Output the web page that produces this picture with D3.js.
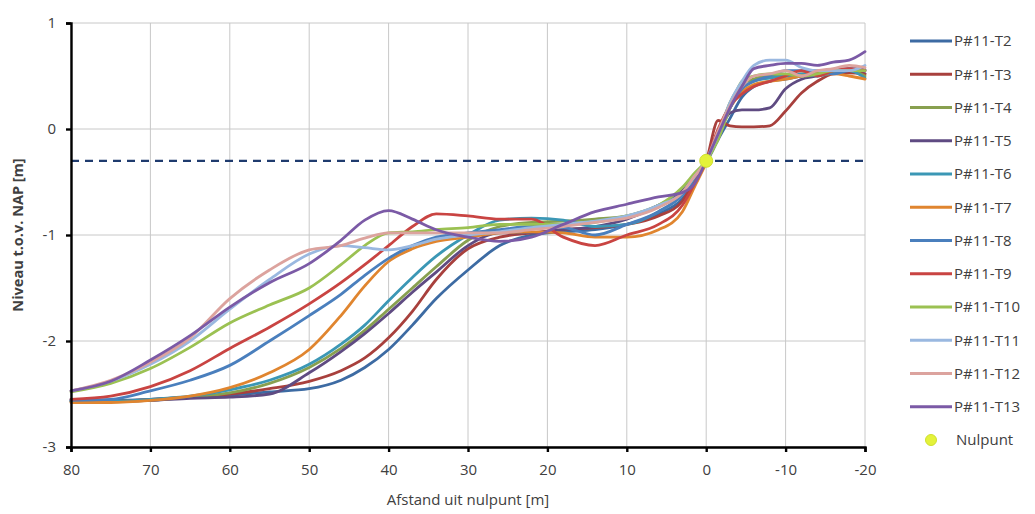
<!DOCTYPE html>
<meta charset="utf-8">
<style>
  body { margin: 0; background: #fff; }
  svg text { font-family: "Open Sans", "Liberation Sans", sans-serif; fill: #404040; }
  .grid line { stroke: #c8c8c8; stroke-width: 1; }
  .series path { fill: none; stroke-width: 2.8px; stroke-linejoin: round; stroke-linecap: round; }
</style>
<svg width="1035" height="514"></svg>
<script src="https://cdn.jsdelivr.net/npm/d3@7/dist/d3.min.js"></script>
<script>
  // afstand uit nulpunt [m]
  var afstand = [80, 75, 70, 65, 60, 55, 50, 46, 43, 40, 37, 34, 30, 26, 22, 18, 14, 10, 6, 3, 1.5, 0, -1.5, -3, -4.5, -6, -8, -10, -12, -14, -16, -18, -20];

  var T2  = [-2.55,-2.56,-2.55,-2.53,-2.51,-2.48,-2.45,-2.37,-2.25,-2.08,-1.85,-1.6,-1.33,-1.1,-1.0,-0.97,-0.95,-0.9,-0.8,-0.66,-0.5,-0.32,-0.1,0.1,0.3,0.4,0.45,0.47,0.5,0.52,0.55,0.55,0.52];
  var T3  = [-2.57,-2.57,-2.55,-2.53,-2.5,-2.45,-2.38,-2.28,-2.16,-1.97,-1.72,-1.42,-1.13,-1.02,-0.98,-0.95,-0.93,-0.9,-0.82,-0.68,-0.48,-0.3,0.08,0.03,0.02,0.02,0.03,0.17,0.34,0.45,0.52,0.53,0.52];
  var T4  = [-2.57,-2.57,-2.56,-2.53,-2.49,-2.4,-2.25,-2.07,-1.9,-1.7,-1.5,-1.3,-1.05,-0.92,-0.88,-0.87,-0.85,-0.82,-0.72,-0.6,-0.45,-0.3,-0.05,0.25,0.42,0.47,0.5,0.5,0.52,0.53,0.55,0.55,0.5];
  var T5  = [-2.56,-2.57,-2.56,-2.54,-2.53,-2.5,-2.3,-2.1,-1.93,-1.74,-1.54,-1.35,-1.1,-0.98,-0.98,-0.95,-0.92,-0.85,-0.72,-0.58,-0.45,-0.3,-0.05,0.15,0.18,0.18,0.2,0.38,0.47,0.5,0.55,0.57,0.56];
  var T6  = [-2.57,-2.57,-2.55,-2.52,-2.46,-2.37,-2.22,-2.03,-1.85,-1.62,-1.4,-1.2,-1.0,-0.86,-0.84,-0.86,-0.92,-0.9,-0.78,-0.62,-0.47,-0.3,-0.02,0.2,0.38,0.45,0.48,0.5,0.52,0.5,0.53,0.55,0.48];
  var T7  = [-2.58,-2.58,-2.56,-2.52,-2.44,-2.3,-2.08,-1.76,-1.48,-1.25,-1.13,-1.06,-1.02,-0.98,-0.97,-0.98,-1.02,-1.02,-0.95,-0.78,-0.55,-0.32,-0.05,0.2,0.35,0.42,0.45,0.47,0.5,0.52,0.52,0.5,0.47];
  var T8  = [-2.56,-2.55,-2.47,-2.37,-2.23,-2.0,-1.76,-1.56,-1.38,-1.22,-1.1,-1.02,-0.98,-0.95,-0.92,-0.93,-1.0,-0.9,-0.78,-0.62,-0.47,-0.3,-0.05,0.2,0.38,0.45,0.5,0.55,0.55,0.55,0.52,0.55,0.55];
  var T9  = [-2.55,-2.52,-2.43,-2.28,-2.07,-1.87,-1.65,-1.45,-1.28,-1.1,-0.92,-0.8,-0.82,-0.85,-0.85,-1.02,-1.1,-1.0,-0.9,-0.72,-0.52,-0.3,0.0,0.22,0.33,0.4,0.45,0.5,0.55,0.5,0.55,0.57,0.55];
  var T10 = [-2.48,-2.4,-2.26,-2.06,-1.83,-1.66,-1.5,-1.28,-1.1,-0.98,-0.97,-0.95,-0.93,-0.9,-0.9,-0.9,-0.88,-0.82,-0.72,-0.55,-0.42,-0.3,-0.1,0.2,0.45,0.5,0.52,0.52,0.5,0.52,0.55,0.55,0.55];
  var T11 = [-2.47,-2.38,-2.22,-2.0,-1.7,-1.42,-1.18,-1.1,-1.12,-1.14,-1.1,-1.04,-1.0,-0.97,-0.93,-0.9,-0.87,-0.82,-0.72,-0.6,-0.45,-0.3,-0.05,0.25,0.45,0.6,0.65,0.65,0.58,0.55,0.55,0.55,0.6];
  var T12 = [-2.47,-2.37,-2.2,-1.97,-1.6,-1.33,-1.14,-1.1,-1.03,-0.98,-0.98,-0.98,-0.98,-0.98,-0.95,-0.92,-0.88,-0.84,-0.74,-0.6,-0.45,-0.3,-0.02,0.22,0.4,0.5,0.52,0.55,0.5,0.55,0.57,0.6,0.58];
  var T13 = [-2.47,-2.38,-2.18,-1.95,-1.68,-1.45,-1.27,-1.05,-0.86,-0.77,-0.85,-0.95,-1.02,-1.06,-1.02,-0.9,-0.78,-0.71,-0.64,-0.6,-0.52,-0.3,-0.05,0.2,0.4,0.57,0.6,0.62,0.62,0.6,0.63,0.65,0.73];

  var seriesNames = ["P#11-T2","P#11-T3","P#11-T4","P#11-T5","P#11-T6","P#11-T7","P#11-T8","P#11-T9","P#11-T10","P#11-T11","P#11-T12","P#11-T13"];
  var seriesValues = [T2, T3, T4, T5, T6, T7, T8, T9, T10, T11, T12, T13];
  var colors = ["#3d6ba3","#a8403d","#88a04f","#5f4b82","#3b97b5","#e0852f","#4a7fbd","#c94442","#9bc152","#9ab8e0","#dca39e","#7b5aa6"];

  var nulpunt = {afstand: 0, niveau: -0.3};
  var xTicks = [80, 70, 60, 50, 40, 30, 20, 10, 0, -10, -20];
  var yTicks = [1, 0, -1, -2, -3];

  var svg = d3.select("svg");
  var plotLeft = 71, plotRight = 865, plotTop = 23, plotBottom = 447;

  var x = d3.scaleLinear().domain([80, -20]).range([plotLeft, plotRight]);
  var y = d3.scaleLinear().domain([-3, 1]).range([plotBottom, plotTop]);

  // grid
  var grid = svg.append("g").attr("class", "grid");
  grid.selectAll(".gx").data(xTicks).enter().append("line")
    .attr("x1", function(d) { return x(d); }).attr("x2", function(d) { return x(d); })
    .attr("y1", plotTop).attr("y2", plotBottom);
  grid.selectAll(".gy").data(yTicks).enter().append("line")
    .attr("x1", plotLeft).attr("x2", plotRight)
    .attr("y1", function(d) { return y(d); }).attr("y2", function(d) { return y(d); });

  // dashed reference level
  svg.append("line")
    .attr("x1", x(80)).attr("x2", x(-20))
    .attr("y1", y(nulpunt.niveau)).attr("y2", y(nulpunt.niveau))
    .attr("stroke", "#1f3b6e").attr("stroke-width", 2.2)
    .attr("stroke-dasharray", "8,6");

  // series
  var line = d3.line()
    .x(function(d) { return x(d[0]); })
    .y(function(d) { return y(d[1]); })
    .curve(d3.curveMonotoneX);

  svg.append("g").attr("class", "series")
    .selectAll("path")
    .data(seriesValues)
    .enter().append("path")
    .attr("stroke", function(d, i) { return colors[i]; })
    .attr("d", function(vals) {
      return line(afstand.map(function(a, j) { return [a, vals[j]]; }));
    });

  svg.append("circle")
    .attr("cx", x(nulpunt.afstand)).attr("cy", y(nulpunt.niveau))
    .attr("r", 6.5).attr("fill", "#e4f23a").attr("stroke", "#cfe02e").attr("stroke-width", 1);

  // axes
  var fmt = function(d) { return String(d); };
  var xAxis = d3.axisBottom(x).tickValues(xTicks).tickSize(5).tickPadding(12).tickFormat(fmt);
  var yAxis = d3.axisLeft(y).tickValues(yTicks).tickSize(5).tickPadding(10).tickFormat(fmt);

  var gx = svg.append("g").attr("transform", "translate(0," + plotBottom + ")").call(xAxis);
  var gy = svg.append("g").attr("transform", "translate(" + plotLeft + ",0)").call(yAxis);
  [gx, gy].forEach(function(g) {
    g.select(".domain").attr("stroke", "#000").attr("stroke-width", 2.4);
    g.selectAll(".tick line").attr("stroke", "#000").attr("stroke-width", 2.4);
    g.selectAll(".tick text").attr("font-size", 15).attr("font-family", null).style("fill", "#404040");
  });

  svg.append("text")
    .attr("x", (plotLeft + plotRight) / 2).attr("y", 505)
    .attr("text-anchor", "middle").attr("font-size", 15)
    .text("Afstand uit nulpunt [m]");

  svg.append("text")
    .attr("transform", "translate(23," + (plotTop + plotBottom) / 2 + ") rotate(-90)")
    .attr("text-anchor", "middle").attr("font-size", 14.5).attr("font-weight", "bold")
    .text("Niveau t.o.v. NAP [m]");

  // legend
  var legend = svg.append("g");
  var rowH = 33.25, ly0 = 41;
  seriesNames.forEach(function(name, i) {
    var ly = ly0 + i * rowH;
    legend.append("line").attr("x1", 910).attr("x2", 952).attr("y1", ly).attr("y2", ly)
      .attr("stroke", colors[i]).attr("stroke-width", 3.2);
    legend.append("text").attr("x", 954).attr("y", ly).attr("dy", "0.36em")
      .attr("font-size", 15).text(name);
  });
  var ny = ly0 + seriesNames.length * rowH;
  legend.append("circle").attr("cx", 931).attr("cy", ny).attr("r", 5.5)
    .attr("fill", "#e4f23a").attr("stroke", "#cfe02e");
  legend.append("text").attr("x", 956).attr("y", ny).attr("dy", "0.36em")
    .attr("font-size", 15).text("Nulpunt");
</script>
